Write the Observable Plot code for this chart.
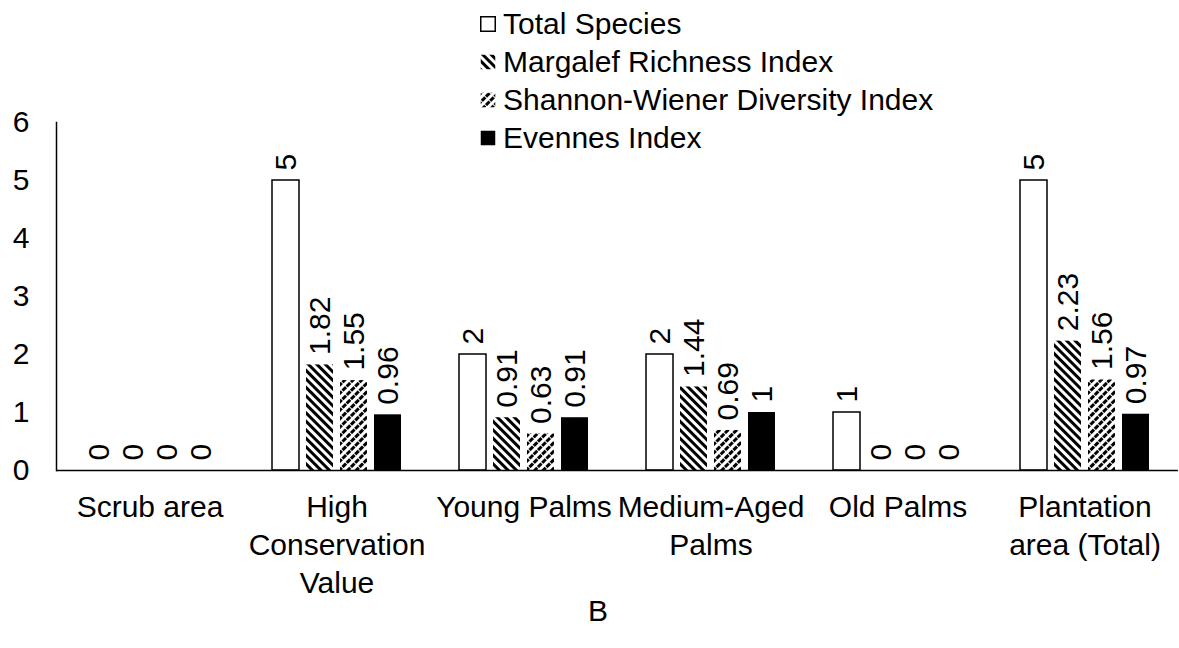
<!DOCTYPE html>
<html>
<head>
<meta charset="utf-8">
<script src="https://cdn.jsdelivr.net/npm/d3@7"></script>
<script src="https://cdn.jsdelivr.net/npm/@observablehq/plot@0.6"></script>
<style>
  html, body { margin: 0; padding: 0; background: #fff; }
  #wrap { position: relative; width: 1179px; height: 648px; overflow: hidden; font-family: "Liberation Sans", Arial, sans-serif; color: #000; }
  #legend { position: absolute; left: 480px; top: 5px; font-size: 30px; line-height: 38px; }
  .row { display: flex; align-items: center; height: 38px; white-space: nowrap; }
  .row svg { margin-right: 7px; flex: none; }
  #caption { position: absolute; left: 0; width: 1196px; text-align: center; top: 592px; font-size: 30px; line-height: 38px; }
</style>
</head>
<body>
<svg width="0" height="0" style="position:absolute">
  <defs>
    <pattern id="pMarg" patternUnits="userSpaceOnUse" width="6" height="6" patternTransform="rotate(-45)">
      <rect x="0" y="0" width="6" height="6" fill="white"></rect>
      <rect x="0" y="0" width="3" height="6" fill="black"></rect>
    </pattern>
    <pattern id="pShan" patternUnits="userSpaceOnUse" width="6" height="6" patternTransform="rotate(45)">
      <rect x="0" y="0" width="6" height="6" fill="white"></rect>
      <rect x="0" y="0" width="3" height="6" fill="black"></rect>
      <rect x="0" y="5" width="3" height="1" fill="white"></rect>
    </pattern>
  </defs>
</svg>
<div id="wrap">
  <div id="chart"></div>
  <div id="legend"></div>
  <div id="caption">B</div>
</div>
<script>
const categories = ["Scrub area", "High Conservation Value", "Young Palms", "Medium-Aged Palms", "Old Palms", "Plantation area (Total)"];
const categoryLabels = ["Scrub area", "High\nConservation\nValue", "Young Palms", "Medium-Aged\nPalms", "Old Palms", "Plantation\narea (Total)"];
const seriesNames = ["Total Species", "Margalef Richness Index", "Shannon-Wiener Diversity Index", "Evennes Index"];
const totalSpecies = [0, 5, 2, 2, 1, 5];
const margalef = [0, 1.82, 0.91, 1.44, 0, 2.23];
const shannon = [0, 1.55, 0.63, 0.69, 0, 1.56];
const evenness = [0, 0.96, 0.91, 1, 0, 0.97];
const yTicks = [0, 1, 2, 3, 4, 5, 6];
const seriesFills = ["white", "url(#pMarg)", "url(#pShan)", "black"];

const seriesValues = [totalSpecies, margalef, shannon, evenness];
const data = [];
categories.forEach((c, i) => {
  seriesNames.forEach((s, j) => {
    data.push({category: c, series: s, value: seriesValues[j][i]});
  });
});

const chart = Plot.plot({
  width: 1179,
  height: 648,
  marginLeft: 55,
  marginRight: 0,
  marginTop: 122,
  marginBottom: 178,
  style: {fontFamily: "'Liberation Sans', Arial, sans-serif", fontSize: "30px", color: "black", background: "white", overflow: "visible"},
  fx: {domain: categories, padding: 0, axis: null, label: null},
  x: {domain: seriesNames, paddingInner: 0.2, paddingOuter: 0.85, axis: null},
  y: {domain: [0, 6], axis: null},
  color: {domain: seriesNames, range: seriesFills},
  marks: [
    Plot.axisY({ticks: yTicks, tickFormat: d => String(d), tickSize: 0, tickPadding: 27, label: null, fontSize: 30}),
    Plot.axisFx({anchor: "bottom", tickSize: 0, tickPadding: 19, label: null, fontSize: 30, lineHeight: 1.27,
      tickFormat: c => categoryLabels[categories.indexOf(c)]}),
    Plot.barY(data, {filter: d => d.series !== "Total Species", fx: "category", x: "series", y: "value", fill: "series"}),
    Plot.barY(data, {filter: d => d.series === "Total Species", fx: "category", x: "series", y: "value", fill: "white", stroke: "black", strokeWidth: 1.5}),
    Plot.ruleY([0], {stroke: "black", strokeWidth: 1.5}),
    Plot.frame({anchor: "left", facetAnchor: "left", stroke: "black", strokeWidth: 1.5}),
    Plot.text(data, {fx: "category", x: "series", y: "value", text: d => String(d.value), rotate: -90, textAnchor: "start", dy: -10, fontSize: 30, fill: "black"})
  ]
});
document.getElementById("chart").appendChild(chart);

const legend = d3.select("#legend");
seriesNames.forEach((s, j) => {
  const row = legend.append("div").attr("class", "row");
  const sw = row.append("svg").attr("width", 16).attr("height", 16);
  sw.append("rect").attr("x", 0.75).attr("y", 0.75).attr("width", 14.5).attr("height", 14.5)
    .attr("fill", seriesFills[j])
    .attr("stroke", j === 0 ? "black" : "none").attr("stroke-width", 1.5);
  row.append("span").text(s);
});
</script>
</body>
</html>
